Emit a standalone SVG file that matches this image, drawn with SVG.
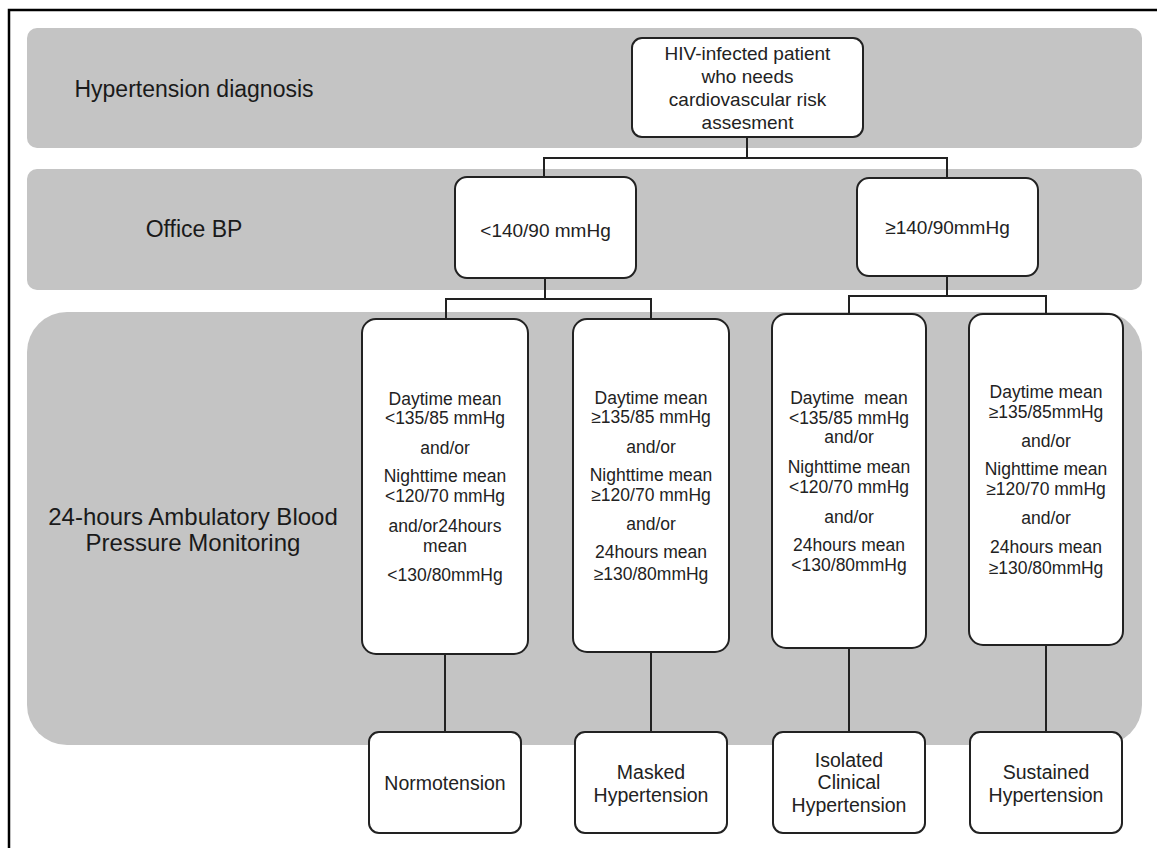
<svg xmlns="http://www.w3.org/2000/svg" width="1157" height="848" viewBox="0 0 1157 848">
<style>
text{font-family:"Liberation Sans",Arial,sans-serif;fill:#222;text-anchor:middle}
.band{fill:#c4c4c4}
.node{fill:#fff;stroke:#222;stroke-width:2}
.lbl{font-size:23px;fill:#1a1a1a}
.lbl3{font-size:24px;fill:#1a1a1a}
.t19{font-size:19px}
.t17{font-size:17.5px}
.t20{font-size:19.5px}
.conn line{stroke:#222;stroke-width:2}
</style>
<rect width="1157" height="848" fill="#fff"/>
<path d="M9,848 V10 H1157" fill="none" stroke="#000" stroke-width="2.5"/>

<g id="bands">
<rect class="band" x="27" y="28" width="1115" height="120" rx="10"/>
<rect class="band" x="27" y="169" width="1115" height="121" rx="10"/>
<rect class="band" x="27" y="312" width="1115" height="433" rx="40"/>
<text class="lbl" x="194" y="97">Hypertension diagnosis</text>
<text class="lbl" x="194" y="237">Office BP</text>
<text class="lbl3" x="193" y="525">24-hours Ambulatory Blood</text>
<text class="lbl3" x="193" y="551">Pressure Monitoring</text>
</g>

<g class="conn" id="connectors">
<line x1="747" y1="137" x2="747" y2="158"/>
<line x1="544" y1="158" x2="947" y2="158"/>
<line x1="544" y1="157" x2="544" y2="177"/>
<line x1="947" y1="157" x2="947" y2="178"/>
<line x1="545" y1="278" x2="545" y2="299"/>
<line x1="445" y1="299" x2="652" y2="299"/>
<line x1="446" y1="298" x2="446" y2="319"/>
<line x1="651" y1="298" x2="651" y2="319"/>
<line x1="947" y1="276" x2="947" y2="296"/>
<line x1="848" y1="296" x2="1047" y2="296"/>
<line x1="849" y1="295" x2="849" y2="314"/>
<line x1="1046" y1="295" x2="1046" y2="314"/>
<line x1="445" y1="654" x2="445" y2="732"/>
<line x1="651" y1="652" x2="651" y2="732"/>
<line x1="849" y1="648" x2="849" y2="732"/>
<line x1="1046" y1="645" x2="1046" y2="732"/>
</g>

<g id="hiv">
<rect class="node" x="632" y="38" width="231" height="99" rx="10"/>
<text class="t19" x="747.5" y="60">HIV-infected patient</text>
<text class="t19" x="747.5" y="83">who needs</text>
<text class="t19" x="747.5" y="106">cardiovascular risk</text>
<text class="t19" x="747.5" y="129">assesment</text>
</g>

<g id="office-low">
<rect class="node" x="455" y="177" width="181" height="101" rx="12"/>
<text class="t19" x="545.5" y="236.5">&lt;140/90 mmHg</text>
</g>

<g id="office-high">
<rect class="node" x="857" y="178" width="181" height="98" rx="12"/>
<text class="t19" x="947.5" y="233.5">≥140/90mmHg</text>
</g>

<g id="abpm-1">
<rect class="node" x="362" y="319" width="166" height="335" rx="14"/>
<g class="t17">
<text x="445" y="405">Daytime mean</text>
<text x="445" y="424">&lt;135/85 mmHg</text>
<text x="445" y="454">and/or</text>
<text x="445" y="482">Nighttime mean</text>
<text x="445" y="502">&lt;120/70 mmHg</text>
<text x="445" y="532">and/or24hours</text>
<text x="445" y="552">mean</text>
<text x="445" y="581">&lt;130/80mmHg</text>
</g>
</g>

<g id="abpm-2">
<rect class="node" x="573" y="319" width="156" height="333" rx="14"/>
<g class="t17">
<text x="651" y="404">Daytime mean</text>
<text x="651" y="423">≥135/85 mmHg</text>
<text x="651" y="453">and/or</text>
<text x="651" y="481">Nighttime mean</text>
<text x="651" y="501">≥120/70 mmHg</text>
<text x="651" y="530">and/or</text>
<text x="651" y="558">24hours mean</text>
<text x="651" y="580">≥130/80mmHg</text>
</g>
</g>

<g id="abpm-3">
<rect class="node" x="772" y="314" width="154" height="334" rx="14"/>
<g class="t17">
<text x="849" y="404" xml:space="preserve">Daytime  mean</text>
<text x="849" y="424">&lt;135/85 mmHg</text>
<text x="849" y="443">and/or</text>
<text x="849" y="473">Nighttime mean</text>
<text x="849" y="493">&lt;120/70 mmHg</text>
<text x="849" y="523">and/or</text>
<text x="849" y="551">24hours mean</text>
<text x="849" y="571">&lt;130/80mmHg</text>
</g>
</g>

<g id="abpm-4">
<rect class="node" x="969" y="314" width="154" height="331" rx="14"/>
<g class="t17">
<text x="1046" y="398">Daytime mean</text>
<text x="1046" y="418">≥135/85mmHg</text>
<text x="1046" y="447">and/or</text>
<text x="1046" y="475">Nighttime mean</text>
<text x="1046" y="495">≥120/70 mmHg</text>
<text x="1046" y="524">and/or</text>
<text x="1046" y="553">24hours mean</text>
<text x="1046" y="574">≥130/80mmHg</text>
</g>
</g>

<g id="normotension">
<rect class="node" x="369" y="732" width="152" height="101" rx="10"/>
<text class="t20" x="445" y="790">Normotension</text>
</g>

<g id="masked">
<rect class="node" x="575" y="732" width="152" height="101" rx="10"/>
<text class="t20" x="651" y="779">Masked</text>
<text class="t20" x="651" y="802">Hypertension</text>
</g>

<g id="isolated">
<rect class="node" x="773" y="732" width="152" height="101" rx="10"/>
<text class="t20" x="849" y="767">Isolated</text>
<text class="t20" x="849" y="789">Clinical</text>
<text class="t20" x="849" y="812">Hypertension</text>
</g>

<g id="sustained">
<rect class="node" x="970" y="732" width="152" height="101" rx="10"/>
<text class="t20" x="1046" y="779">Sustained</text>
<text class="t20" x="1046" y="802">Hypertension</text>
</g>
</svg>
